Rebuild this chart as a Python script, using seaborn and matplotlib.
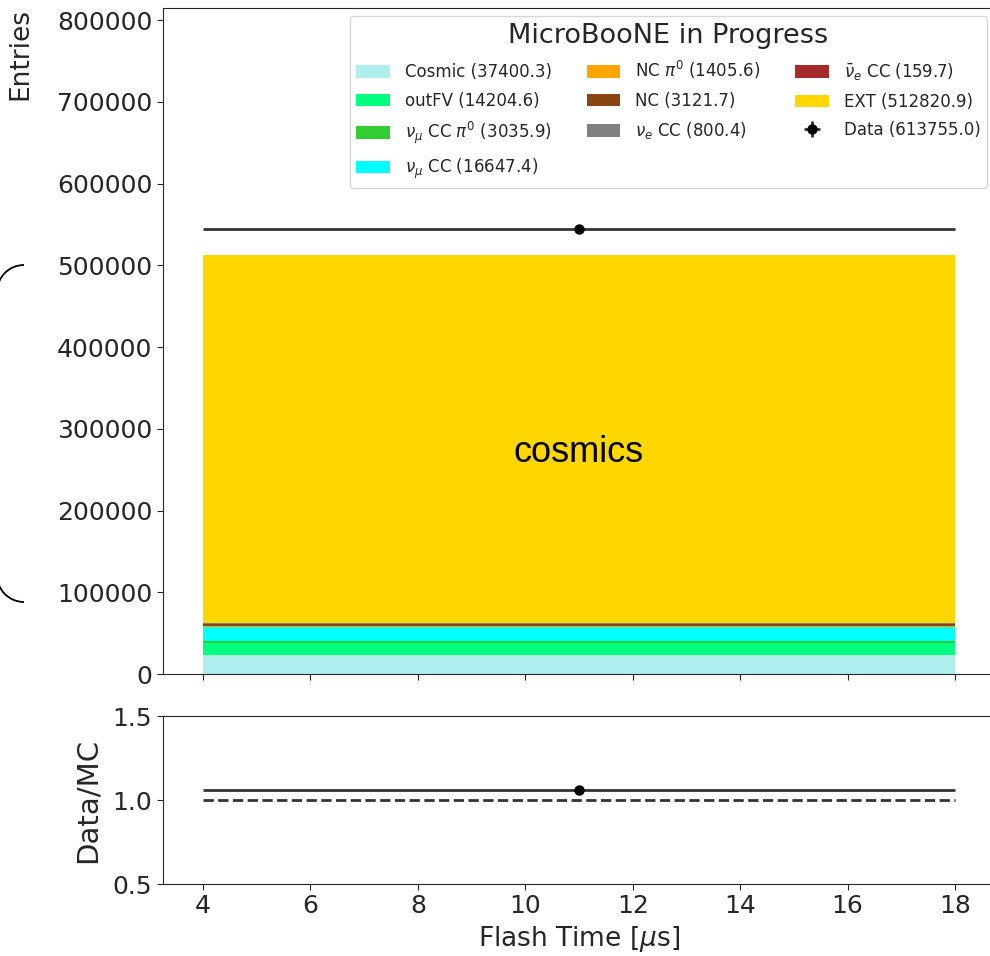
import numpy as np
import pandas as pd
import seaborn as sns
import matplotlib
matplotlib.use("Agg")
import matplotlib.pyplot as plt
from matplotlib.patches import Patch, Arc

sns.set_style("ticks")
plt.rcParams['font.family'] = ['DejaVu Sans']
plt.rcParams['mathtext.fontset'] = 'dejavusans'

# ---------------- data ----------------
components = ["Cosmic", "outFV", "numu_cc_pi0", "numu_cc", "nc_pi0", "nc", "nue_cc", "nuebar_cc", "EXT"]
labels = ["Cosmic (37400.3)", "outFV (14204.6)", r"$\nu_\mu$ CC $\pi^0$ (3035.9)",
          r"$\nu_\mu$ CC (16647.4)", r"NC $\pi^0$ (1405.6)", "NC (3121.7)",
          r"$\nu_e$ CC (800.4)", r"$\bar{\nu}_e$ CC (159.7)", "EXT (512820.9)"]
colors = ["#AFEEEE", "#00FF7F", "#32CD32", "#00FFFF", "#FFA500", "#8B4513",
          "#808080", "#A52A2A", "#FFD700"]
# bin content of each component (single bin 4-18 us)
values = [23200, 14200, 3000, 16650, 1400, 3100, 800, 160, 450000]
bin_edges = [4, 18]
data_value = 544000
data_label = "Data (613755.0)"
x_ticks = [4, 6, 8, 10, 12, 14, 16, 18]
y_ticks = [0, 100000, 200000, 300000, 400000, 500000, 600000, 700000, 800000]
ratio_ticks = [0.5, 1.0, 1.5]

bin_center = 0.5 * (bin_edges[0] + bin_edges[1])
half_width = 0.5 * (bin_edges[1] - bin_edges[0])

df = pd.DataFrame({"t": [bin_center] * len(components), "w": values, "comp": components})

# ---------------- figure ----------------
W, H = 990, 956
fig = plt.figure(figsize=(W / 100, H / 100), dpi=100)

ax = fig.add_axes([162.7 / W, 1 - 674 / H, (995.3 - 162.7) / W, (674 - 8) / H])
axr = fig.add_axes([162.7 / W, 1 - 884 / H, (995.3 - 162.7) / W, (884 - 716) / H])

sns.histplot(data=df, x="t", weights="w", hue="comp", hue_order=components[::-1],
             palette=dict(zip(components, colors)), multiple="stack", bins=bin_edges,
             element="bars", linewidth=0, alpha=1, legend=False, ax=ax)

eb = ax.errorbar([bin_center], [data_value], xerr=[half_width], yerr=[np.sqrt(data_value)],
                 fmt="o", color="black", ecolor="#333333", elinewidth=2, markersize=6.5)

ax.text(bin_center, 271000, "cosmics", fontsize=26, family="Liberation Sans",
        ha="center", va="center", color="black")

ax.set_xlim(3.25, 18.75)
ax.set_ylim(0, 815000)
ax.set_xticks(x_ticks)
ax.set_xticklabels([])
ax.set_yticks(y_ticks)
ax.set_yticklabels([str(v) for v in y_ticks])
ax.tick_params(axis="both", labelsize=18, direction="out", length=4)
ax.set_xlabel("")
ax.set_ylabel("Entries", fontsize=19, loc="top")
ax.yaxis.set_label_coords(-0.155, 1.0)
for s in ax.spines.values():
    s.set_visible(True)

handles = [Patch(facecolor=c, edgecolor="none") for c in colors] + [eb]
leg_labels = labels + [data_label]
leg = ax.legend(handles, leg_labels, ncol=3, loc="upper right", fontsize=12,
                title="MicroBooNE in Progress", title_fontsize=19.5,
                handlelength=2.0, handleheight=0.78, labelspacing=0.62,
                columnspacing=2.1, handletextpad=0.9, borderaxespad=0.5)

# ratio panel
mc_total = sum(values)
ratio = data_value / mc_total
axr.errorbar([bin_center], [ratio], xerr=[half_width], yerr=[np.sqrt(data_value) / mc_total],
             fmt="o", color="black", ecolor="#333333", elinewidth=2, markersize=6.5)
sns.lineplot(x=bin_edges, y=[1.0, 1.0], ax=axr, color="#333333", linestyle="--", linewidth=2)
axr.set_xlim(3.25, 18.75)
axr.set_ylim(0.5, 1.5)
axr.set_xticks(x_ticks)
axr.set_xticklabels([str(v) for v in x_ticks])
axr.set_yticks(ratio_ticks)
axr.set_yticklabels(["0.5", "1.0", "1.5"])
axr.tick_params(axis="both", labelsize=18, direction="out", length=4)
axr.set_xlabel(r"Flash Time [$\mu$s]", fontsize=19)
axr.set_ylabel("Data/MC", fontsize=21, labelpad=8)
for s in axr.spines.values():
    s.set_visible(True)

# bracket decoration at left edge
ov = fig.add_axes([0, 0, 1, 1], zorder=10)
ov.set_xlim(0, W)
ov.set_ylim(0, H)
ov.axis("off")
ov.patch.set_alpha(0)
ov.add_patch(Arc((24, H - 292), 54, 54, theta1=90, theta2=180, color="black", lw=1.3))
ov.add_patch(Arc((24, H - 575), 54, 54, theta1=180, theta2=270, color="black", lw=1.3))

fig.savefig("out.png", dpi=100)
